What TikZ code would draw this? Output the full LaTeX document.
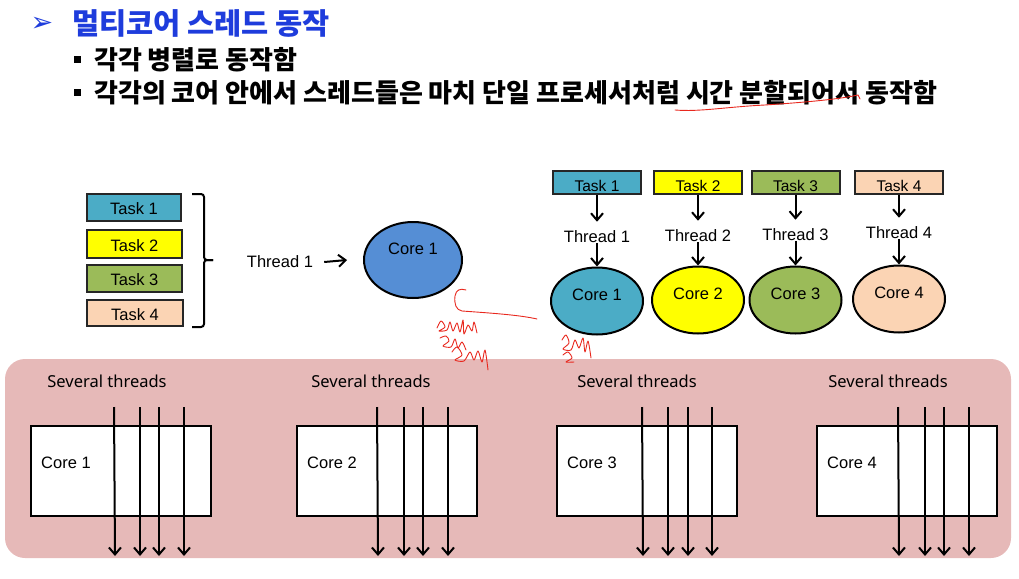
\documentclass[tikz,border=0pt]{standalone}
\usepackage{fontspec}
\setmainfont{Liberation Sans}
\newfontfamily\kr{Noto Sans CJK KR}
\newfontfamily\djv{DejaVu Sans}
\newfontfamily\nsans{Noto Sans}
\usetikzlibrary{arrows.meta,shapes.geometric}
\definecolor{titleblue}{RGB}{30,60,220}
\definecolor{tone}{RGB}{75,172,198}
\definecolor{ttwo}{RGB}{255,255,0}
\definecolor{tthree}{RGB}{155,187,89}
\definecolor{tfour}{RGB}{251,212,180}
\definecolor{coreblue}{RGB}{85,142,213}
\definecolor{panelpink}{RGB}{230,185,184}
\definecolor{penred}{RGB}{232,40,30}
\tikzset{
  taskbox/.style={draw=black!85, line width=2pt, rectangle, inner sep=0pt},
  coreell/.style={draw=black, line width=2pt, ellipse, inner sep=0pt},
  lbl/.style={font=\fontsize{16.5}{18}\selectfont, inner sep=1pt},
  arr/.style={draw=black, line width=2pt, -{Straight Barb[length=7pt,width=12pt]}},
  corebox/.style={draw=black, fill=white, line width=2pt, rectangle, inner sep=0pt, anchor=north west, minimum width=180, minimum height=90},
  sev/.style={font=\nsans\fontsize{16.5}{18}\selectfont, inner sep=1pt},
  redpen/.style={draw=penred, line width=0.9pt, line cap=round, line join=round},
}
\begin{document}
\begin{tikzpicture}[x=1pt,y=-1pt]
\useasboundingbox (0,0) rectangle (1019,578);
% header
\node[text=titleblue, font=\djv\fontsize{27}{28}\selectfont, inner sep=0pt] (tarrow) at (42,24) {➢};
\node[anchor=west, text=titleblue, font=\kr\bfseries\fontsize{29.5}{31}\selectfont, inner sep=0pt] (title) at (72,23) {멀티코어 스레드 동작};
\node[fill=black, minimum size=7, inner sep=0pt] (b1) at (77.5,59.5) {};
\node[anchor=west, font=\kr\bfseries\fontsize{26}{28}\selectfont, inner sep=0pt] (l1) at (94,60) {각각 병렬로 동작함};
\node[fill=black, minimum size=7, inner sep=0pt] (b2) at (77.5,92.5) {};
\node[anchor=west, font=\kr\bfseries\fontsize{26}{28}\selectfont, inner sep=0pt] (l2) at (94,93) {각각의 코어 안에서 스레드들은 마치 단일 프로세서처럼 시간 분할되어서 동작함};
% left: single core
\node[taskbox, fill=tone, minimum width=94, minimum height=27] (lt1) at (134,207.5) {};
\node[lbl] at ([yshift=-1.5]lt1.center) {Task 1};
\node[taskbox, fill=ttwo, minimum width=95, minimum height=28] (lt2) at (134.5,244) {};
\node[lbl] at ([yshift=-1.5]lt2.center) {Task 2};
\node[taskbox, fill=tthree, minimum width=95, minimum height=27] (lt3) at (134.5,278.5) {};
\node[lbl] at ([yshift=-1.5]lt3.center) {Task 3};
\node[taskbox, fill=tfour, minimum width=96, minimum height=26] (lt4) at (135,313) {};
\node[lbl] at ([yshift=-1.5]lt4.center) {Task 4};
\draw[line width=2pt, rounded corners=3pt] (192,194) -- (204,194) -- (204,260) -- (213,260);
\draw[line width=2pt, rounded corners=3pt] (213,260) -- (204,260) -- (204,327) -- (192,327);
\node[lbl] (thl) at (280,262) {Thread 1};
\node[coreell, fill=coreblue, minimum width=98, minimum height=76] (lc1) at (413,260) {};
\node[lbl] at ([yshift=11]lc1.center) {Core 1};
\draw[arr] ([xshift=10]thl.east) -- ([xshift=-16]lc1.west);
% right: multi core
\foreach \i/\x/\col/\ty/\cy in {1/597/tone/237/301, 2/698/ttwo/236/300, 3/795.5/tthree/235/300, 4/899/tfour/233/299}{
  \node[taskbox, fill=\col, minimum width=88, minimum height=23] (rt\i) at (\x,182.5) {};
  \node[lbl, font=\fontsize{15.5}{17}\selectfont] at ([yshift=-3.5]rt\i.center) {Task \i};
  \node[lbl] (th\i) at (\x,\ty) {Thread \i};
  \node[coreell, fill=\col, minimum width=92, minimum height=67] (rc\i) at (\x,\cy) {};
  \node[lbl] at ([yshift=6]rc\i.center) {Core \i};
  \draw[arr] (rt\i.south) -- ([yshift=8]th\i.north);
  \draw[arr] (th\i.base) -- (rc\i.north);
}
% bottom panel
\fill[panelpink, rounded corners=20pt] (5,359) rectangle (1011,558);
\foreach \n/\rl/\sx/\a/\b/\c/\d in {1/30/107/114/140/159/184, 2/296/371/377/404/423/448, 3/556/637/642/668/688/712, 4/816/888/898/925/944/969}{
  \node[sev] (sv\n) at (\sx,381) {Several threads};
  \node[corebox] (r\n) at (\rl,425) {};
  \node[lbl, anchor=west] (rl\n) at (\rl+10,463) {Core \n};
  \foreach \k/\xx in {1/\a, 2/\b, 3/\c, 4/\d}{
    \coordinate (s\n-\k) at (\xx,407);
    \coordinate (e\n-\k) at (\xx+\ifnum\k=1 1\else 0\fi,556);
    \draw[arr] (s\n-\k) -- (e\n-\k);
  }
}
% red handwritten annotations
\draw[redpen] (675,110) .. controls (700,112) and (725,107) .. (765,105) .. controls (810,102) and (840,99) .. (858,95) -- (860,99);
\draw[redpen] (466,290) .. controls (460,288) and (456,290) .. (455,296) .. controls (454,304) and (456,310) .. (462,311) .. controls (490,313) and (520,315) .. (537,319);
\draw[redpen] plot[smooth] coordinates {(437,328)(441,321)(445,327)(439,331)(447,330)(450,322)(453,331)(457,323)(460,332)(463,320)(464,334)(468,325)(472,331)(474,322)(477,333)};
\draw[redpen] plot[smooth] coordinates {(440,338)(446,336)(449,341)(443,346)(451,347)(455,339)(458,348)(462,342)(466,350)};
\draw[redpen] plot[smooth] coordinates {(452,352)(457,347)(462,355)(455,360)(464,361)(470,352)(474,360)(478,351)(482,362)(485,350)(488,370)};
\draw[redpen] plot[smooth] coordinates {(562,340)(566,335)(569,343)(563,349)(571,350)(575,340)(579,348)(583,338)(585,352)(588,341)(591,358)};
\draw[redpen] plot[smooth] coordinates {(563,355)(568,352)(572,358)(566,362)(574,362)};
\end{tikzpicture}
\end{document}
